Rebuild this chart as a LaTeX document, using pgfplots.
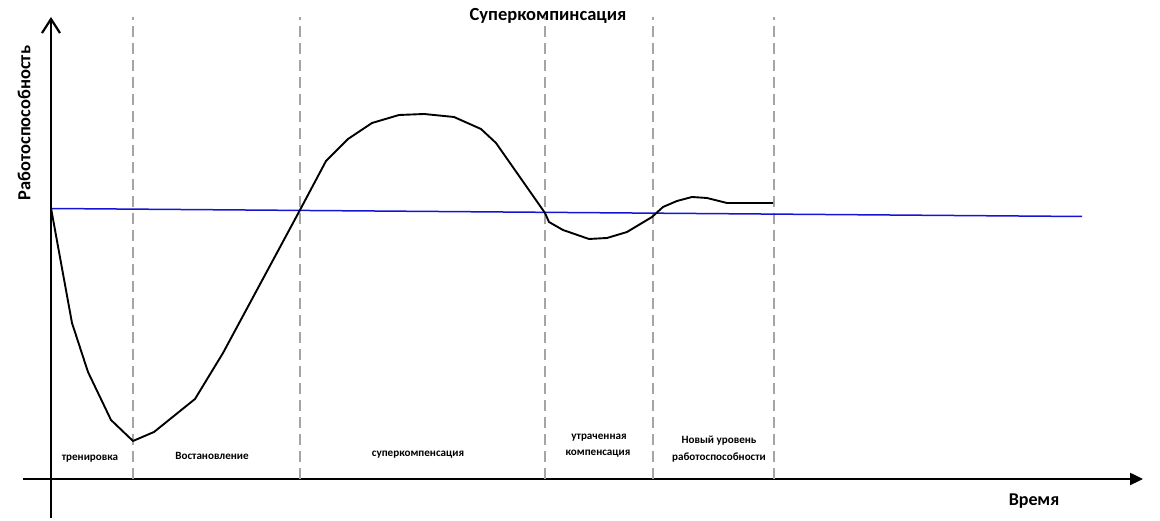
\documentclass[border=0pt]{standalone}
\usepackage{fontspec}
\setmainfont{Carlito}
\usepackage{pgfplots}
\pgfplotsset{compat=1.18}
\usetikzlibrary{arrows.meta}
\definecolor{dashgray}{RGB}{165,165,165}
\definecolor{lineblue}{RGB}{20,20,215}
\begin{document}
\begin{tikzpicture}
\begin{axis}[
  width=1120pt, height=501pt, scale only axis,
  xmin=-28, xmax=1092, ymin=-39, ymax=462,
  axis lines=middle,
  axis line style={line width=2.4pt},
  x axis line style={-{Triangle[length=13pt,width=12pt]}},
  y axis line style={-{Straight Barb[length=14pt,width=18pt,line width=2.2pt]}},
  xtick=\empty, ytick=\empty,
  clip=false,
]
% bounding box of the whole picture
\path (axis cs:-51,-42) rectangle (axis cs:1109,479);
% dashed phase separators
\foreach \xx in {82,249,494,602,723}{
  \edef\tmp{\noexpand\addplot[dashgray, line width=1.6pt, dash pattern=on 11pt off 6pt] coordinates {(\xx,0) (\xx,462)};}
  \tmp
}
% baseline level
\addplot[lineblue, line width=1.5pt] coordinates {(0,270.5) (1031,262.5)};
% performance curve
\addplot[black, line width=1.9pt, line join=round] coordinates {
(0,271) (21,156) (37,107) (60,59) (82,38) (103,47) (144,80) (172,126)
(249,269) (275,318) (297,340) (321,356) (348,364) (373,365) (403,362)
(430,350) (445,336) (494,266) (498,257) (512,249) (538,240) (556,241)
(576,247) (601,262) (612,272) (626,278) (641,282) (656,281) (676,276) (722,276)
};
% texts
\node[font=\fontsize{18.5}{20}\selectfont\bfseries] at (axis cs:497,463) {Суперкомпинсация};
\node[font=\fontsize{18.4}{20}\selectfont\bfseries, rotate=90] at (axis cs:-27,356) {Работоспособность};
\node[font=\fontsize{18}{20}\selectfont\bfseries] at (axis cs:983,-22) {Время};
\begin{scope}[every node/.style={font=\fontsize{11.1}{12}\selectfont\bfseries}]
\node at (axis cs:39,20) {тренировка};
\node at (axis cs:161,23) {Востановление};
\node at (axis cs:367,24) {суперкомпенсация};
\node at (axis cs:548,41) {утраченная};
\node at (axis cs:547,25) {компенсация};
\node at (axis cs:668,38) {Новый уровень};
\node at (axis cs:668,21) {работоспособности};
\end{scope}
\end{axis}
\end{tikzpicture}
\end{document}
